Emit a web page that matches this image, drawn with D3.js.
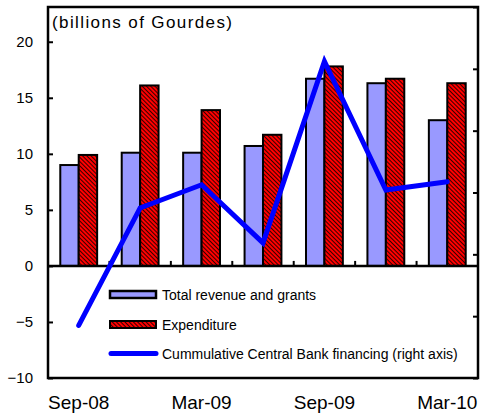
<!DOCTYPE html>
<html>
<head>
<meta charset="utf-8">
<script src="https://cdn.jsdelivr.net/npm/d3@7"></script>
<style>
  body { margin: 0; background: #fff; }
  svg { display: block; font-family: "Liberation Sans", Arial, sans-serif; }
</style>
</head>
<body>
<div id="chart"></div>
<script>
// quarters on the x axis
const quarters = ["Sep-08", "Dec-08", "Mar-09", "Jun-09", "Sep-09", "Dec-09", "Mar-10"];
const shownLabels = ["Sep-08", "Mar-09", "Sep-09", "Mar-10"];
// billions of Gourdes (left axis)
const revenue = [9.0, 10.1, 10.1, 10.7, 16.7, 16.3, 13.0];
const expenditure = [9.9, 16.1, 13.9, 11.7, 17.8, 16.7, 16.3];
// right axis (labels are outside the picture)
const cbFinancing = [-2.3, 1.5, 2.25, 0.37, 6.24, 2.08, 2.35];
const leftTicks = [-10, -5, 0, 5, 10, 15, 20];
const rightTicks = [-4, -2, 0, 2, 4, 6, 8];

const W = 481, H = 414;
const MARGIN = { LEFT: 48, RIGHT: 3, TOP: 7, BOTTOM: 36 };
const plotW = W - MARGIN.LEFT - MARGIN.RIGHT;
const plotH = H - MARGIN.TOP - MARGIN.BOTTOM;

const svg = d3.select("#chart").append("svg")
    .attr("width", W)
    .attr("height", H);

// hatch for the expenditure bars
const defs = svg.append("defs");
const pat = defs.append("pattern")
    .attr("id", "hatch")
    .attr("patternUnits", "userSpaceOnUse")
    .attr("width", 3)
    .attr("height", 3)
    .attr("patternTransform", "rotate(-45)");
pat.append("rect").attr("width", 3).attr("height", 3).attr("fill", "#ff0000");
pat.append("line")
    .attr("x1", 0).attr("y1", 0).attr("x2", 0).attr("y2", 3)
    .attr("stroke", "#000").attr("stroke-width", 1.6);

const g = svg.append("g")
    .attr("transform", `translate(${MARGIN.LEFT}, ${MARGIN.TOP})`);

// scales
const x0 = d3.scaleBand().domain(quarters).range([0, plotW]).paddingInner(0.4).paddingOuter(0.2);
const x1 = d3.scaleBand().domain(["rev", "exp"]).range([0, x0.bandwidth()]);
const y = d3.scaleLinear().domain([-10, 23.1]).range([plotH, 0]);
const y2 = d3.scaleLinear().domain([-4, 8]).range([plotH, 0]);

// bars
const groups = g.selectAll(".grp")
    .data(quarters)
    .join("g")
    .attr("class", "grp")
    .attr("transform", d => `translate(${x0(d)}, 0)`);

groups.append("rect")
    .attr("x", x1("rev"))
    .attr("y", (d, i) => y(revenue[i]))
    .attr("width", x1.bandwidth())
    .attr("height", (d, i) => y(0) - y(revenue[i]))
    .attr("fill", "#9999ff")
    .attr("stroke", "#000")
    .attr("stroke-width", 2);

groups.append("rect")
    .attr("x", x1("exp"))
    .attr("y", (d, i) => y(expenditure[i]))
    .attr("width", x1.bandwidth())
    .attr("height", (d, i) => y(0) - y(expenditure[i]))
    .attr("fill", "url(#hatch)")
    .attr("stroke", "#000")
    .attr("stroke-width", 2);

// zero line with category boundary ticks
g.append("line")
    .attr("x1", 0).attr("x2", plotW)
    .attr("y1", y(0)).attr("y2", y(0))
    .attr("stroke", "#000").attr("stroke-width", 2.5);

g.selectAll(".cat-tick")
    .data(quarters.slice(1))
    .join("line")
    .attr("class", "cat-tick")
    .attr("x1", d => x0(d) + x0.bandwidth() / 2 - x0.step() / 2)
    .attr("x2", d => x0(d) + x0.bandwidth() / 2 - x0.step() / 2)
    .attr("y1", y(0))
    .attr("y2", y(0) - 5)
    .attr("stroke", "#000").attr("stroke-width", 2);

// line on the right axis
const line = d3.line()
    .x((d, i) => x0(quarters[i]) + x0.bandwidth() / 2)
    .y(d => y2(d));

g.append("path")
    .attr("d", line(cbFinancing))
    .attr("fill", "none")
    .attr("stroke", "#0000ff")
    .attr("stroke-width", 5)
    .attr("stroke-linecap", "round")
    .attr("stroke-linejoin", "miter");

// left axis
const yAxis = g.append("g")
    .call(d3.axisLeft(y).tickValues(leftTicks).tickSize(-5).tickPadding(15));
yAxis.select(".domain").remove();
yAxis.selectAll("line").attr("stroke-width", 2);
yAxis.selectAll("text").attr("font-size", "15px").attr("fill", "#000");

// right axis, ticks only
const yAxisR = g.append("g")
    .attr("transform", `translate(${plotW}, 0)`)
    .call(d3.axisRight(y2).tickValues(rightTicks).tickSize(-5).tickFormat(""));
yAxisR.select(".domain").remove();
yAxisR.selectAll("line").attr("stroke-width", 2);

// bottom labels
const xAxis = g.append("g")
    .attr("transform", `translate(0, ${plotH})`)
    .call(d3.axisBottom(x0).tickValues(shownLabels).tickSize(0).tickPadding(18));
xAxis.select(".domain").remove();
xAxis.selectAll("text").attr("font-size", "19px").attr("fill", "#000");

// frame
g.append("rect")
    .attr("width", plotW)
    .attr("height", plotH)
    .attr("fill", "none")
    .attr("stroke", "#000")
    .attr("stroke-width", 2.5);

// unit note
g.append("text")
    .attr("x", 4)
    .attr("y", 21)
    .attr("font-size", "17px")
    .attr("textLength", 180)
    .attr("lengthAdjust", "spacing")
    .text("(billions of Gourdes)");

// legend
const legend = g.append("g").attr("transform", "translate(62, 288)");
const rowY = [0, 29.5, 58.5];

legend.append("rect")
    .attr("x", 0).attr("y", rowY[0] - 4)
    .attr("width", 46).attr("height", 7)
    .attr("fill", "#9999ff").attr("stroke", "#000").attr("stroke-width", 2.5);
legend.append("rect")
    .attr("x", 0).attr("y", rowY[1] - 3.5)
    .attr("width", 46).attr("height", 7)
    .attr("fill", "url(#hatch)").attr("stroke", "#000").attr("stroke-width", 2);
legend.append("line")
    .attr("x1", 1).attr("x2", 46)
    .attr("y1", rowY[2]).attr("y2", rowY[2])
    .attr("stroke", "#0000ff").attr("stroke-width", 5).attr("stroke-linecap", "round");

const legendText = ["Total revenue and grants", "Expenditure", "Cummulative Central Bank financing (right axis)"];
legend.selectAll(".lt")
    .data(legendText)
    .join("text")
    .attr("class", "lt")
    .attr("x", 52)
    .attr("y", (d, i) => rowY[i] + 5)
    .attr("font-size", "14px")
    .text(d => d);
</script>
</body>
</html>
